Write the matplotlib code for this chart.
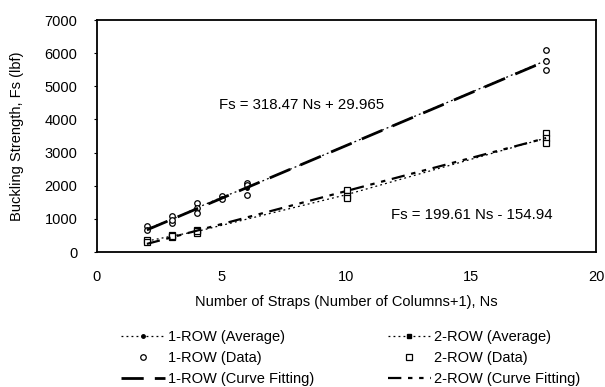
import numpy as np
import matplotlib
matplotlib.use("Agg")
import matplotlib.pyplot as plt

plt.rcParams['font.family'] = ['Liberation Sans', 'DejaVu Sans']

# 1-ROW tests
ns_1row = [2, 3, 4, 5, 6, 18]
data_1row = [[790, 660], [1090, 880, 960], [1480, 1330, 1180],
             [1690, 1600], [2080, 2020, 1720], [6100, 5770, 5490]]
avg_1row = [700, 980, 1330, 1650, 1940, 5780]
fit_1row = (318.47, 29.965)

# 2-ROW tests
ns_2row = [2, 3, 4, 10, 18]
data_2row = [[360, 300], [510, 450, 470], [660, 570, 620],
             [1870, 1700, 1630], [3590, 3450, 3300]]
avg_2row = [330, 480, 620, 1730, 3440]
fit_2row = (199.61, -154.94)

fs = 10.5

fig = plt.figure(figsize=(6.05, 3.87), dpi=100)
ax = fig.add_axes([97/605, 1-252/387, 499/605, 232/387])

ax.plot(ns_1row, avg_1row, ls=(0, (1.5, 2.5)), color='black', lw=0.9,
        marker='o', ms=2.5, label='1-ROW (Average)')
ax.plot(ns_2row, avg_2row, ls=(0, (1.5, 2.5)), color='black', lw=0.9,
        marker='s', ms=2.5, label='2-ROW (Average)')

x1 = [x for x, vals in zip(ns_1row, data_1row) for v in vals]
y1 = [v for vals in data_1row for v in vals]
x2 = [x for x, vals in zip(ns_2row, data_2row) for v in vals]
y2 = [v for vals in data_2row for v in vals]
ax.plot(x1, y1, ls='none', marker='o', ms=4, mfc='white', mec='black',
        mew=0.9, label='1-ROW (Data)')
ax.plot(x2, y2, ls='none', marker='s', ms=4, mfc='white', mec='black',
        mew=0.9, label='2-ROW (Data)')

xf = np.array([2, 18])
ax.plot(xf, fit_1row[0]*xf + fit_1row[1], color='black', lw=2,
        ls=(0, (8, 4)), label='1-ROW (Curve Fitting)')
ax.plot(xf, fit_2row[0]*xf + fit_2row[1], color='black', lw=1.6,
        ls=(0, (6, 3, 2, 3, 2, 3)), label='2-ROW (Curve Fitting)')

ax.text(4.9, 4430, 'Fs = 318.47 Ns + 29.965', fontsize=10.8, va='center')
ax.text(11.8, 1120, 'Fs = 199.61 Ns - 154.94', fontsize=10.8, va='center')

ax.set_xlim(0, 20)
ax.set_ylim(0, 7000)
ax.set_xticks([0, 5, 10, 15, 20])
ax.set_yticks(range(0, 7001, 1000))
ax.tick_params(labelsize=fs, length=2, direction='out')
ax.tick_params(axis='y', pad=12)
ax.tick_params(axis='x', length=0, pad=13)
for s in ax.spines.values():
    s.set_linewidth(1.3)

ax.set_xlabel('Number of Straps (Number of Columns+1), Ns', fontsize=fs, labelpad=8)
ax.set_ylabel('Buckling Strength, Fs (lbf)', fontsize=fs, labelpad=15)

h, l = ax.get_legend_handles_labels()
order = [0, 2, 4, 1, 3, 5]
fig.legend([h[i] for i in order], [l[i] for i in order], ncol=2,
           loc='upper left', bbox_to_anchor=(121/605, 1-330/387),
           frameon=False, fontsize=fs, handlelength=3, columnspacing=5.05,
           labelspacing=0.48, borderaxespad=0, borderpad=0, handletextpad=0.2)

fig.savefig('out.png', dpi=100)
